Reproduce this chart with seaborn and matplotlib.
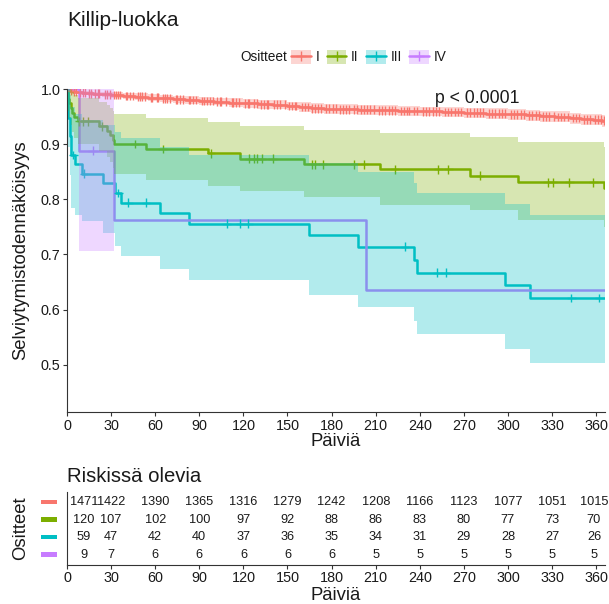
import numpy as np
import pandas as pd
import matplotlib
matplotlib.use("Agg")
import matplotlib.pyplot as plt
import matplotlib.transforms as mtransforms
from matplotlib.patches import Patch, Rectangle
from matplotlib.lines import Line2D
import seaborn as sns

# ---------------- data ----------------
groups = ["I", "II", "III", "IV"]
colors = ["#F8766D", "#7CAE00", "#00BFC4", "#C77CFF"]
end_day = 366

# Group I
t1 = [0, 2, 4, 7, 10, 14, 18, 24, 30, 38, 46, 55, 63, 72, 80, 90, 100, 110, 120, 130, 140,
      150, 158, 166, 175, 185, 198, 210, 225, 240, 255, 270, 285, 300, 312, 322, 332, 342,
      350, 358, 364]
s1 = [1.0, .998, .996, .995, .994, .993, .992, .991, .990, .988, .987, .985, .984, .982, .981,
      .979, .978, .976, .975, .973, .972, .970, .968, .966, .965, .964, .963, .962, .961, .960,
      .959, .958, .956, .955, .953, .951, .950, .948, .946, .945, .943]
hi1 = [1.0, 1.0, .999, .998, .998, .997, .996, .996, .995, .993, .993, .991, .990, .989, .988,
       .986, .985, .984, .983, .981, .980, .978, .977, .975, .974, .973, .972, .971, .970, .969,
       .968, .967, .966, .965, .963, .961, .960, .958, .956, .955, .954]
lo1 = [1.0, .996, .993, .992, .990, .989, .988, .986, .985, .983, .981, .979, .978, .975, .974,
       .972, .971, .968, .967, .965, .964, .962, .959, .957, .956, .955, .954, .953, .952, .951,
       .950, .949, .946, .945, .943, .941, .940, .938, .936, .935, .932]
c1 = [3, 5, 6, 9, 11, 12, 15, 16, 19, 21, 22, 26, 27, 29, 32, 33, 35, 36, 40, 41, 43, 45, 48,
      50, 51, 53, 57, 58, 61, 62, 65, 67, 68, 70, 74, 75, 77, 79, 83, 84, 86, 88, 92, 93, 95,
      97, 99, 102, 104, 105, 108, 112, 113, 115, 117, 121, 123, 124, 127, 129, 132, 134, 136,
      137, 141, 143, 145, 148, 151, 153, 155, 156, 160, 162, 164, 167, 169, 171, 173, 176, 178,
      181, 183, 186, 188, 190, 192, 195, 197, 200, 202, 204, 206, 209, 212, 214, 216, 219, 221,
      223, 227, 229, 231, 233, 236, 238, 242, 244, 246, 249, 251, 253, 257, 259, 261, 264, 266,
      268, 272, 274, 277, 279, 281, 283, 287, 289, 291, 294, 296, 298, 302, 304, 306, 309, 311,
      314, 316, 319, 321, 324, 326, 328, 331, 334, 336, 338, 341, 344, 346, 348, 352, 354, 356,
      359, 361, 363, 365]

# Group II
t2 = [0, 0.5, 1, 1.5, 2.5, 3.5, 5, 7.5, 22, 27, 29.5, 31, 32, 54, 96, 118, 161, 213, 274, 307, 365.3]
s2 = [1.0, .992, .983, .975, .967, .958, .950, .942, .933, .925, .917, .909, .901, .892, .884,
      .874, .864, .855, .843, .831, .820]
hi2 = [1.0, 1.0, 1.0, 1.0, .999, .995, .990, .985, .978, .972, .967, .961, .955, .948, .941,
       .934, .927, .921, .914, .904, .895]
lo2 = [1.0, .976, .961, .948, .935, .923, .912, .900, .889, .878, .868, .857, .847, .836, .824,
       .815, .804, .790, .780, .763, .750]
c2 = [8.5, 11, 14.5, 24, 46, 65, 98, 124, 127, 129.5, 132.5, 140, 166.5, 169, 174, 195.5, 202,
      223, 252.5, 259.5, 281, 327, 330.5, 341.6, 358]

# Group III
t3 = [0, 1, 2, 3, 5.5, 10, 24.5, 32.7, 36.5, 63.3, 83, 164.7, 198, 236, 238, 298, 315]
s3 = [1.0, .949, .915, .881, .864, .847, .830, .812, .794, .775, .756, .735, .714, .690, .667,
      .644, .621]
hi3 = [1.0, 1.0, .99, .968, .955, .945, .935, .922, .912, .895, .880, .866, .850, .830, .811,
       .791, .771]
lo3 = [1.0, .895, .845, .785, .772, .761, .739, .716, .697, .673, .653, .627, .604, .579, .556,
       .529, .503]
c3 = [4.3, 11.6, 35, 41.7, 53.8, 108.7, 117.7, 123.4, 230, 252, 257.6, 343, 362]

# Group IV (band outside the shown range is dropped)
t4 = [0, 8.2, 32, 203.3]
s4 = [1.0, .889, .762, .636]
hi4 = [1.0, 1.0, np.nan, np.nan]
lo4 = [1.0, .706, np.nan, np.nan]
c4 = [17.5]

# Risk table
risk_times = [0, 30, 60, 90, 120, 150, 180, 210, 240, 270, 300, 330, 360]
n1 = [1471, 1422, 1390, 1365, 1316, 1279, 1242, 1208, 1166, 1123, 1077, 1051, 1015]
n2 = [120, 107, 102, 100, 97, 92, 88, 86, 83, 80, 77, 73, 70]
n3 = [59, 47, 42, 40, 37, 36, 35, 34, 31, 29, 28, 27, 26]
n4 = [9, 7, 6, 6, 6, 6, 6, 5, 5, 5, 5, 5, 5]

curves = [(t1, s1, hi1, lo1, c1), (t2, s2, hi2, lo2, c2),
          (t3, s3, hi3, lo3, c3), (t4, s4, hi4, lo4, c4)]
risks = [n1, n2, n3, n4]

# ---------------- style ----------------
sns.set_style("ticks")
plt.rcParams['font.family'] = ['Liberation Sans', 'DejaVu Sans']
plt.rcParams['axes.linewidth'] = 0.8
plt.rcParams['xtick.major.size'] = 2.6
plt.rcParams['ytick.major.size'] = 2.6
plt.rcParams['xtick.major.width'] = 0.8
plt.rcParams['ytick.major.width'] = 0.8
txt_col = "#1a1a1a"

W, H = 609, 604
fig = plt.figure(figsize=(W / 100, H / 100), dpi=100)

px_l, px_r = 67, 605
ax = fig.add_axes([px_l / W, 1 - 412.3 / H, (px_r - px_l) / W, (412.3 - 88.5) / H])
ax2 = fig.add_axes([px_l / W, 1 - 565 / H, (px_r - px_l) / W, (565 - 491.7) / H])

# long-form frames
rows, crow = [], []
for g, (t, s, hi, lo, c) in zip(groups, curves):
    for ti, si in zip(t, s):
        rows.append((g, ti, si))
    rows.append((g, end_day, s[-1]))
    tt = np.array(t, dtype=float)
    ss = np.array(s, dtype=float)
    for ci in c:
        idx = np.searchsorted(tt, ci, side="right") - 1
        crow.append((g, ci, ss[idx]))
df = pd.DataFrame(rows, columns=["group", "time", "surv"])
cdf = pd.DataFrame(crow, columns=["group", "time", "surv"])
pal = dict(zip(groups, colors))

sns.lineplot(data=df, x="time", y="surv", hue="group", palette=pal, estimator=None,
             drawstyle="steps-post", linewidth=1.8, legend=False, ax=ax, zorder=2)
sns.scatterplot(data=cdf, x="time", y="surv", hue="group", palette=pal, marker="+",
                s=40, linewidth=1.0, legend=False, ax=ax, zorder=2.5)

# confidence ribbons (drawn over the curves)
for g, col, (t, s, hi, lo, c) in zip(groups, colors, curves):
    xs, his, los = [], [], []
    for i in range(len(t)):
        x0 = t[i]
        x1 = t[i + 1] if i + 1 < len(t) else end_day
        xs += [x0, x1]
        his += [hi[i], hi[i]]
        los += [lo[i], lo[i]]
    ax.fill_between(xs, los, his, color=col, alpha=0.3, linewidth=0, zorder=3)

ax.text(279, 0.984, "p < 0.0001", ha="center", va="center", fontsize=12.7, color=txt_col)

ax.set_xlim(0, 366)
ax.set_ylim(0.4131, 1.0018)
ax.set_xticks(risk_times)
ax.set_yticks([0.5, 0.6, 0.7, 0.8, 0.9, 1.0])
ax.set_yticklabels(["0.5", "0.6", "0.7", "0.8", "0.9", "1.0"])
ax.tick_params(labelsize=10.4, colors="#333333", labelcolor=txt_col, pad=2)
ax.set_xlabel("Päiviä", fontsize=13.3, color=txt_col)
ax.set_ylabel("Selviytymistodennäköisyys", fontsize=13.3, color=txt_col)
ax.xaxis.label.set_va("center")
ax.yaxis.label.set_va("center")
ax.xaxis.set_label_coords(0.5, -(441 - 412.3) / 323.8)
ax.yaxis.set_label_coords(-(67 - 21) / 538, 0.5)
sns.despine(ax=ax)
for sp in ax.spines.values():
    sp.set_color("#333333")

# title + legend
fig.text(67 / W, 1 - 20 / H, "Killip-luokka", fontsize=15, ha="left", va="center", color=txt_col)
fig.text(240 / W, 1 - 57 / H, "Ositteet", fontsize=9.8, ha="left", va="center", color=txt_col)
handles = [(Patch(facecolor=c, alpha=0.3, edgecolor="none"),
            Line2D([], [], color=c, linewidth=1.8, marker="+", markersize=7, markeredgewidth=1.0))
           for c in colors]
fig.legend(handles, groups, loc="center left", bbox_to_anchor=(291 / W, 1 - 57 / H),
           ncol=4, frameon=False, fontsize=9.8, handlelength=1.45, handleheight=1.25,
           handletextpad=0.35, columnspacing=0.55, borderpad=0, borderaxespad=0,
           labelcolor=txt_col)

# ---------------- risk table ----------------
label_x = [11.5] + risk_times[1:-1] + [358.5]
ypos = [4, 3, 2, 1]
for yy, nums in zip(ypos, risks):
    for xx, n in zip(label_x, nums):
        ax2.text(xx, yy, str(n), ha="center", va="center", fontsize=9.2, color=txt_col,
                 clip_on=False)
ax2.set_xlim(0, 366)
ax2.set_ylim(0.4, 4.6)
ax2.set_xticks(risk_times)
ax2.set_yticks([])
ax2.tick_params(labelsize=10.4, colors="#333333", labelcolor=txt_col, pad=2)
ax2.set_xlabel("Päiviä", fontsize=13.3, color=txt_col)
ax2.set_ylabel("Ositteet", fontsize=13.3, color=txt_col)
ax2.xaxis.label.set_va("center")
ax2.yaxis.label.set_va("center")
ax2.xaxis.set_label_coords(0.5, -(596 - 565) / 73.3)
ax2.yaxis.set_label_coords(-(67 - 21) / 538, 0.5)
sns.despine(ax=ax2)
for sp in ax2.spines.values():
    sp.set_color("#333333")
trans = mtransforms.blended_transform_factory(ax2.transAxes, ax2.transData)
for yy, col in zip(ypos, colors):
    ax2.add_patch(Rectangle((-26.3 / 538, yy - 0.13), 16 / 538, 0.26, transform=trans,
                            facecolor=col, edgecolor="none", clip_on=False))
fig.text(67 / W, 1 - 476 / H, "Riskissä olevia", fontsize=14.6, ha="left", va="center",
         color=txt_col)

fig.savefig("out.png", dpi=100)
